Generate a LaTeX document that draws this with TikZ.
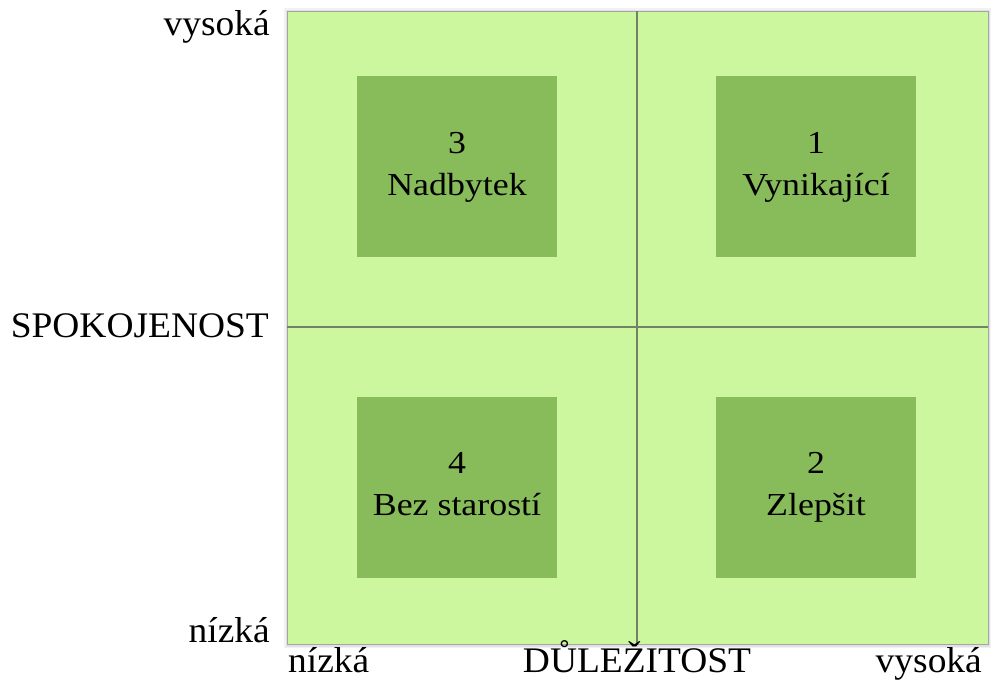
\documentclass[tikz,border=0pt]{standalone}
\usepackage{fontspec}
\setmainfont{Liberation Serif}
\newfontfamily\outerfont[FakeStretch=1.04]{Liberation Serif}
\newfontfamily\innerfont[FakeStretch=1.12]{Liberation Serif}
\definecolor{lightg}{RGB}{204,247,158}
\definecolor{darkg}{RGB}{136,187,90}
\definecolor{axisg}{RGB}{115,130,100}
\definecolor{frameg}{RGB}{165,165,165}
\tikzset{
  quad/.style={fill=darkg, draw=none, minimum width=200pt, minimum height=181pt, inner sep=0pt},
  intext/.style={font=\innerfont\fontsize{32}{38}\selectfont, anchor=base, inner sep=0pt, text=black},
  outtext/.style={font=\outerfont\fontsize{36}{40}\selectfont, inner sep=0pt, text=black},
  axisline/.style={draw=axisg, line width=1.8pt},
}
\begin{document}
\begin{tikzpicture}[x=1pt,y=-1pt]
\useasboundingbox (0,0) rectangle (992,680);
% frame with soft shadow
\coordinate (fa) at (287,11);
\coordinate (fb) at (988,644);
\fill[black,opacity=0.05] ([shift={(-3,-3)}]fa) rectangle ([shift={(3,4)}]fb);
\fill[black,opacity=0.07] ([shift={(-1.5,-1.5)}]fa) rectangle ([shift={(1.5,2.5)}]fb);
\fill[lightg] (fa) rectangle (fb);
\draw[frameg, line width=1pt] (fa) rectangle (fb);
% axes
\coordinate (vt) at (637,11);
\coordinate (vb) at (637,645);
\coordinate (hl) at (287,327);
\coordinate (hr) at (988,327);
\draw[axisline] (vt) -- (vb);
\draw[axisline] (hl) -- (hr);
% quadrant boxes
\node[quad] (q3) at (457,166.5) {};
\node[quad] (q1) at (816,166.5) {};
\node[quad] (q4) at (457,487.5) {};
\node[quad] (q2) at (816,487.5) {};
% quadrant texts
\node[intext] (q3a) at ([yshift=13.5pt]q3.center) {3};
\node[intext] (q3b) at ([yshift=-28.5pt]q3.center) {Nadbytek};
\node[intext] (q1a) at ([yshift=13.5pt]q1.center) {1};
\node[intext] (q1b) at ([yshift=-28.5pt]q1.center) {Vynikající};
\node[intext] (q4a) at ([yshift=14.5pt]q4.center) {4};
\node[intext] (q4b) at ([yshift=-27.5pt]q4.center) {Bez starostí};
\node[intext] (q2a) at ([yshift=14.5pt]q2.center) {2};
\node[intext] (q2b) at ([yshift=-27.5pt]q2.center) {Zlepšit};
% axis labels
\node[outtext, anchor=base east] (yhi) at (270,35) {vysoká};
\node[outtext, anchor=base east] (ymid) at (269,337.5) {SPOKOJENOST};
\node[outtext, anchor=base east] (ylo) at (270,642) {nízká};
\node[outtext, anchor=base west] (xlo) at (288,672) {nízká};
\node[outtext, anchor=base] (xmid) at (637,672) {DŮLEŽITOST};
\node[outtext, anchor=base east] (xhi) at (982,672) {vysoká};
\end{tikzpicture}
\end{document}
